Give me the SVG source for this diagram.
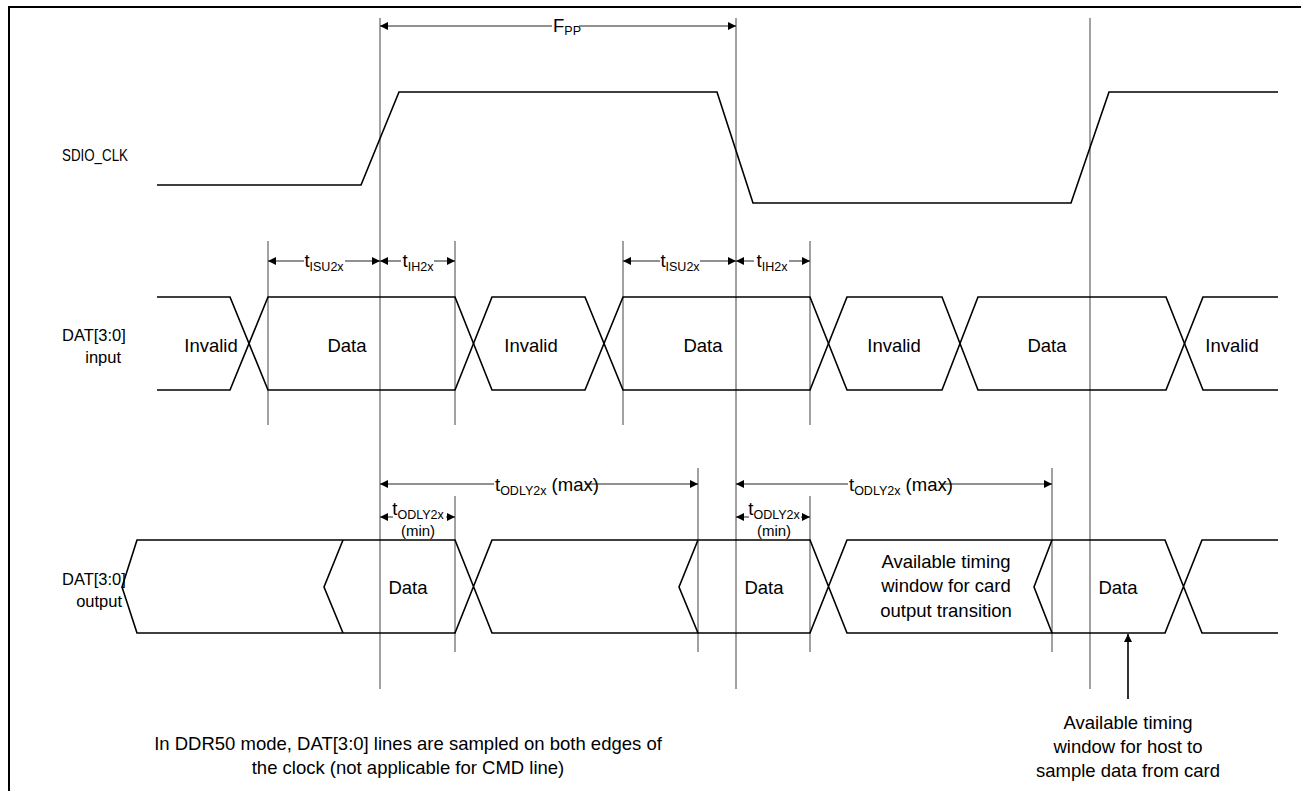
<svg xmlns="http://www.w3.org/2000/svg" width="1301" height="791" viewBox="0 0 1301 791">
<style>
.wave{fill:none;stroke:#000;stroke-width:1.6;stroke-linejoin:miter}
.ref{fill:none;stroke:#444;stroke-width:1}
.dim{fill:none;stroke:#222;stroke-width:1}
.txt{font-family:"Liberation Sans",Arial,sans-serif;font-size:18.5px;fill:#000}
.lbl{font-family:"Liberation Sans",Arial,sans-serif;font-size:16.5px;fill:#000}
.mid{text-anchor:middle}
.end{text-anchor:end}
.sub{font-size:12.5px}
</style>
<defs>
<marker id="ah" viewBox="0 0 10 10" refX="10" refY="5" markerUnits="userSpaceOnUse" markerWidth="9" markerHeight="8" orient="auto-start-reverse">
<path d="M0,0 L10,5 L0,10 z" fill="#000"/>
</marker>
</defs>
<rect x="0" y="0" width="1301" height="791" fill="#fff"/>
<rect x="9" y="7" width="1310" height="800" fill="none" stroke="#000" stroke-width="2"/>

<g id="connectors">
<line class="ref" x1="380" y1="18" x2="380" y2="689"/>
<line class="ref" x1="736" y1="18" x2="736" y2="689"/>
<line class="ref" x1="1090" y1="18" x2="1090" y2="689"/>
<line class="ref" x1="268" y1="241" x2="268" y2="425"/>
<line class="ref" x1="455" y1="241" x2="455" y2="425"/>
<line class="ref" x1="623" y1="241" x2="623" y2="425"/>
<line class="ref" x1="810" y1="241" x2="810" y2="425"/>
<line class="ref" x1="455" y1="496" x2="455" y2="652"/>
<line class="ref" x1="698" y1="468" x2="698" y2="652"/>
<line class="ref" x1="810" y1="496" x2="810" y2="652"/>
<line class="ref" x1="1052" y1="468" x2="1052" y2="652"/>
<line class="dim" x1="380" y1="26" x2="552" y2="26" marker-start="url(#ah)"/>
<line class="dim" x1="579" y1="26" x2="736" y2="26" marker-end="url(#ah)"/>
<line class="dim" x1="268" y1="261" x2="304" y2="261" marker-start="url(#ah)"/>
<line class="dim" x1="345" y1="261" x2="380" y2="261" marker-end="url(#ah)"/>
<line class="dim" x1="380" y1="261" x2="401" y2="261" marker-start="url(#ah)"/>
<line class="dim" x1="434" y1="261" x2="455" y2="261" marker-end="url(#ah)"/>
<line class="dim" x1="623" y1="261" x2="660" y2="261" marker-start="url(#ah)"/>
<line class="dim" x1="700" y1="261" x2="736" y2="261" marker-end="url(#ah)"/>
<line class="dim" x1="736" y1="261" x2="754" y2="261" marker-start="url(#ah)"/>
<line class="dim" x1="789" y1="261" x2="810" y2="261" marker-end="url(#ah)"/>
<line class="dim" x1="380" y1="484" x2="494" y2="484" marker-start="url(#ah)"/>
<line class="dim" x1="585" y1="484" x2="698" y2="484" marker-end="url(#ah)"/>
<line class="dim" x1="736" y1="484" x2="848" y2="484" marker-start="url(#ah)"/>
<line class="dim" x1="940" y1="484" x2="1052" y2="484" marker-end="url(#ah)"/>
<line class="dim" x1="380" y1="517" x2="393" y2="517" marker-start="url(#ah)"/>
<line class="dim" x1="446" y1="517" x2="455" y2="517" marker-end="url(#ah)"/>
<line class="dim" x1="736" y1="517" x2="749" y2="517" marker-start="url(#ah)"/>
<line class="dim" x1="801" y1="517" x2="810" y2="517" marker-end="url(#ah)"/>
<line x1="1128" y1="699" x2="1128" y2="634" stroke="#000" stroke-width="1.6" marker-end="url(#ah)"/>
</g>

<g id="sdio_clk">
<text class="lbl" x="62" y="161" textLength="66" lengthAdjust="spacingAndGlyphs">SDIO_CLK</text>
<polyline class="wave" points="157,185 361,185 399,92 717,92 753,203 1071,203 1109,92 1278,92"/>
</g>

<g id="dat_input">
<text class="lbl" x="62" y="341">DAT[3:0]</text>
<text class="lbl end" x="121" y="363">input</text>
<path class="wave" d="M157,297 H230 L268,390 H455 L492,297 H585 L623,390 H810 L847,297 H942 L978,390 H1166 L1203,297 H1278"/>
<path class="wave" d="M157,390 H230 L268,297 H455 L492,390 H585 L623,297 H810 L847,390 H942 L978,297 H1166 L1203,390 H1278"/>
<text class="txt mid" x="211" y="352">Invalid</text>
<text class="txt mid" x="347" y="352">Data</text>
<text class="txt mid" x="531" y="352">Invalid</text>
<text class="txt mid" x="703" y="352">Data</text>
<text class="txt mid" x="894" y="352">Invalid</text>
<text class="txt mid" x="1047" y="352">Data</text>
<text class="txt mid" x="1232" y="352">Invalid</text>
</g>

<g id="dat_output">
<text class="lbl" x="62" y="585">DAT[3:0]</text>
<text class="lbl end" x="122" y="607">output</text>
<path class="wave" d="M1278,540 H1202 L1165,633 H847 L810,540 H492 L455,633 H137 L122,587 L137,540 H455 L492,633 H810 L847,540 H1165 L1202,633 H1278"/>
<polyline class="wave" points="343,540 324,587 343,633"/>
<polyline class="wave" points="698,540 679,587 698,633"/>
<polyline class="wave" points="1052,540 1034,587 1052,633"/>
<text class="txt mid" x="408" y="594">Data</text>
<text class="txt mid" x="764" y="594">Data</text>
<text class="txt mid" x="1118" y="594">Data</text>
<text class="txt mid" x="946" y="568">Available timing</text>
<text class="txt mid" x="946" y="592">window for card</text>
<text class="txt mid" x="946" y="617">output transition</text>
</g>

<g id="labels">
<text class="txt" x="553" y="32">F<tspan class="sub" dy="3">PP</tspan></text>
<text class="txt mid" x="324" y="267">t<tspan class="sub" dy="4">ISU2x</tspan></text>
<text class="txt mid" x="418" y="267">t<tspan class="sub" dy="4">IH2x</tspan></text>
<text class="txt mid" x="680" y="267">t<tspan class="sub" dy="4">ISU2x</tspan></text>
<text class="txt mid" x="772" y="267">t<tspan class="sub" dy="4">IH2x</tspan></text>
<text class="txt" x="495" y="491">t<tspan class="sub" dy="4">ODLY2x</tspan><tspan dy="-4"> (max)</tspan></text>
<text class="txt" x="849" y="491">t<tspan class="sub" dy="4">ODLY2x</tspan><tspan dy="-4"> (max)</tspan></text>
<text class="txt mid" x="418" y="515">t<tspan class="sub" dy="4">ODLY2x</tspan></text>
<text class="txt mid" x="418" y="536" style="font-size:15px">(min)</text>
<text class="txt mid" x="774" y="515">t<tspan class="sub" dy="4">ODLY2x</tspan></text>
<text class="txt mid" x="774" y="536" style="font-size:15px">(min)</text>
<text class="txt mid" x="408" y="750">In DDR50 mode, DAT[3:0] lines are sampled on both edges of</text>
<text class="txt mid" x="408" y="774">the clock (not applicable for CMD line)</text>
<text class="txt mid" x="1128" y="729">Available timing</text>
<text class="txt mid" x="1128" y="753">window for host to</text>
<text class="txt mid" x="1128" y="777">sample data from card</text>
</g>
</svg>
